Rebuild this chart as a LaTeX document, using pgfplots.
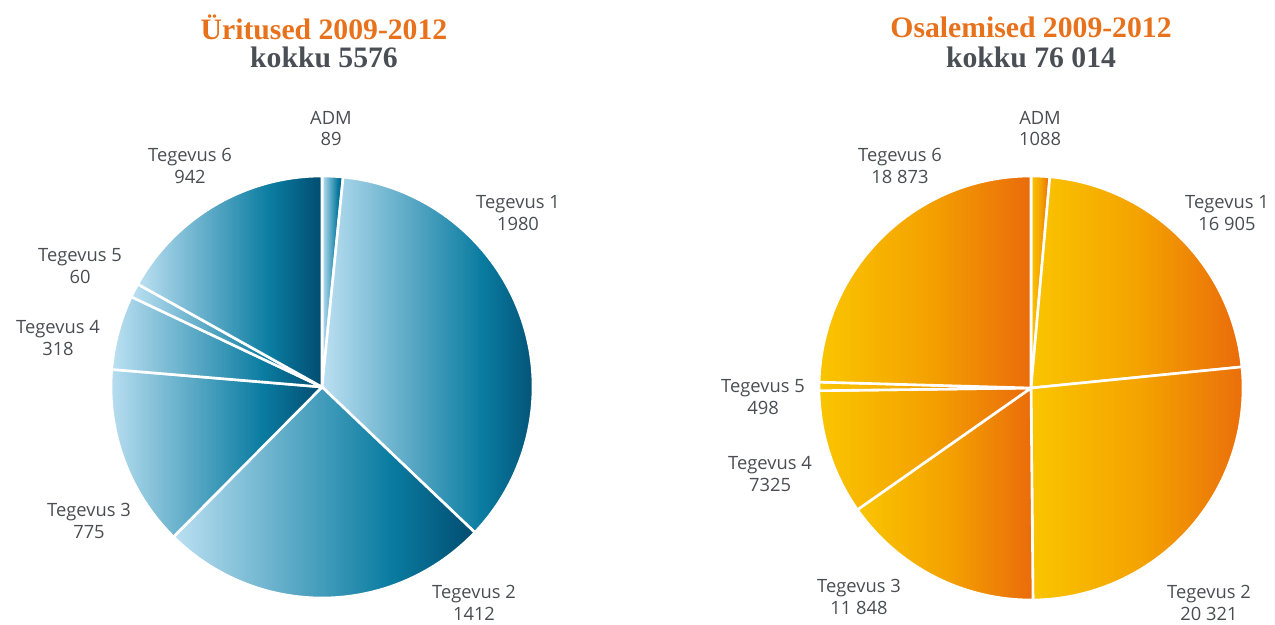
\documentclass[border=0pt]{standalone}
\usepackage{pgfplots}
\pgfplotsset{compat=1.18}
\usepackage{pgfplotstable}
\usepackage{fontspec}
\setmainfont{Open Sans}
\newfontfamily\titlefont{Liberation Serif}
\definecolor{bA}{HTML}{BCE0F2}
\definecolor{bB}{HTML}{0A7CA1}
\definecolor{bC}{HTML}{024C70}
\definecolor{oA}{HTML}{FAC500}
\definecolor{oB}{HTML}{F4A300}
\definecolor{oC}{HTML}{EA6B0B}
\definecolor{titor}{HTML}{E8711C}
\definecolor{titgray}{HTML}{4A4F55}
\definecolor{labgray}{HTML}{4A4D52}
\pgfdeclarehorizontalshading{blueshade}{100bp}{color(0bp)=(bA); color(25bp)=(bA); color(61bp)=(bB); color(75bp)=(bC); color(100bp)=(bC)}
\pgfdeclarehorizontalshading{orangeshade}{100bp}{color(0bp)=(oA); color(25bp)=(oA); color(50bp)=(oB); color(75bp)=(oC); color(100bp)=(oC)}

\pgfplotstableread[col sep=comma]{
label,value,shown,lx,ly
ADM,89,89,331,128.5
Tegevus 1,1980,1980,518,213
Tegevus 2,1412,1412,474,603
Tegevus 3,775,775,89,521
Tegevus 4,318,318,58,338
Tegevus 5,60,60,80,266
Tegevus 6,942,942,190,166
}\tabA

\pgfplotstableread[col sep=comma]{
label,value,shown,lx,ly
ADM,1088,1088,1040,128.5
Tegevus 1,16905,16 905,1227,213
Tegevus 2,20321,20 321,1209,603
Tegevus 3,11848,11 848,859,597
Tegevus 4,7325,7325,770,474
Tegevus 5,498,498,763,397
Tegevus 6,18873,18 873,900,166
}\tabB

% #1 table, #2 cx, #3 cy, #4 radius, #5 shading
\newcommand\drawpie[5]{%
  \pgfplotstablegetrowsof{#1}\edef\nrows{\pgfplotsretval}%
  \edef\nlast{\the\numexpr\nrows-1\relax}%
  \def\tot{0}%
  \pgfplotsforeachungrouped \i in {0,...,\nlast}{%
    \pgfplotstablegetelem{\i}{value}\of{#1}%
    \edef\tot{\the\numexpr\tot+\pgfplotsretval\relax}%
  }%
  \def\cum{0}%
  \pgfplotsforeachungrouped \i in {0,...,\nlast}{%
    \pgfplotstablegetelem{\i}{value}\of{#1}\edef\v{\pgfplotsretval}%
    \edef\sa{\fpeval{round(90-360*\cum/\tot,4)}}%
    \edef\cum{\the\numexpr\cum+\v\relax}%
    \edef\ea{\fpeval{round(90-360*\cum/\tot,4)}}%
    \edef\cmd{\noexpand\path[shade, shading=#5, shading angle=0, draw=white, line width=1.3bp, line join=round]
      (axis cs:#2,#3) -- ++(\sa:#4) arc[start angle=\sa, end angle=\ea, radius=#4] -- cycle;}%
    \cmd
  }%
  \pgfplotsforeachungrouped \i in {0,...,\nlast}{%
    \pgfplotstablegetelem{\i}{label}\of{#1}\edef\lab{\pgfplotsretval}%
    \pgfplotstablegetelem{\i}{shown}\of{#1}\edef\shn{\pgfplotsretval}%
    \pgfplotstablegetelem{\i}{lx}\of{#1}\edef\lx{\pgfplotsretval}%
    \pgfplotstablegetelem{\i}{ly}\of{#1}\edef\ly{\pgfplotsretval}%
    \edef\cmd{\noexpand\node[align=center, text=labgray, font=\noexpand\fontsize{9.2}{11}\noexpand\selectfont, inner sep=0pt]
      at (axis cs:\lx,\ly) {\lab\noexpand\\\shn};}%
    \cmd
  }%
}

\begin{document}
\begin{tikzpicture}
\begin{axis}[
  width=637.5bp, height=312.5bp, scale only axis,
  xmin=0, xmax=1275, ymin=0, ymax=625, y dir=reverse,
  hide axis, clip=false]
\addplot[draw=none] coordinates {(0,0) (1275,625)};
\drawpie{\tabA}{322}{387}{105.5bp}{blueshade}
\drawpie{\tabB}{1031}{388}{106bp}{orangeshade}
\node[text=titor, font=\titlefont\bfseries\fontsize{14.9}{15}\selectfont, inner sep=0pt] at (axis cs:324,27) {Üritused 2009-2012};
\node[text=titgray, font=\titlefont\bfseries\fontsize{14.9}{15}\selectfont, inner sep=0pt] at (axis cs:324,57) {kokku 5576};
\node[text=titor, font=\titlefont\bfseries\fontsize{14.9}{15}\selectfont, inner sep=0pt] at (axis cs:1031,27) {Osalemised 2009-2012};
\node[text=titgray, font=\titlefont\bfseries\fontsize{14.9}{15}\selectfont, inner sep=0pt] at (axis cs:1031,57) {kokku 76 014};
\end{axis}
\end{tikzpicture}
\end{document}
